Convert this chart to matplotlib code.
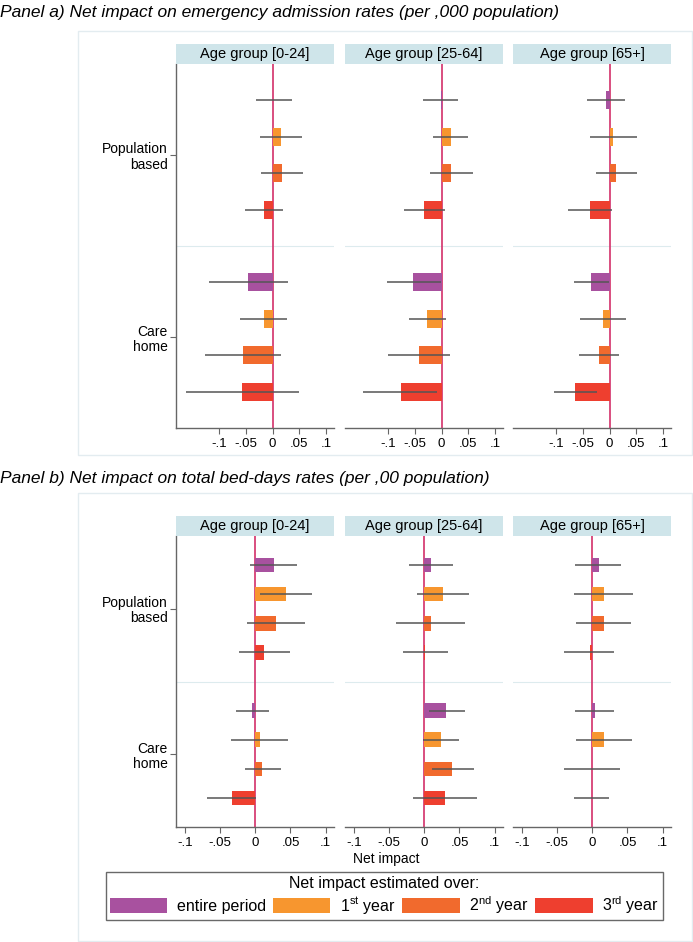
import matplotlib
matplotlib.use("Agg")
import matplotlib.pyplot as plt
from matplotlib.patches import Patch, Rectangle

plt.rcParams['font.family'] = ['Liberation Sans', 'DejaVu Sans']
plt.rcParams['mathtext.fontset'] = 'custom'
plt.rcParams['mathtext.rm'] = 'Liberation Sans'

# ---- data (rows: population based x4 periods, then care home x4 periods)
age_groups = ["Age group [0-24]", "Age group [25-64]", "Age group [65+]"]
periods = ["entire period", "1$^{\\mathrm{st}}$ year", "2$^{\\mathrm{nd}}$ year", "3$^{\\mathrm{rd}}$ year"]
settings = ["Population\nbased", "Care\nhome"]
ticks = [-0.1, -0.05, 0, 0.05, 0.1]
tick_labels = ["-.1", "-.05", "0", ".05", ".1"]

# panel a) emergency admissions
est_a_0_24 = [0.001, 0.015, 0.018, -0.016, -0.046, -0.016, -0.056, -0.057]
lo_a_0_24 = [-0.031, -0.024, -0.021, -0.051, -0.120, -0.061, -0.127, -0.162]
hi_a_0_24 = [0.037, 0.055, 0.057, 0.020, 0.029, 0.027, 0.015, 0.049]

est_a_25_64 = [-0.002, 0.017, 0.018, -0.033, -0.054, -0.027, -0.043, -0.077]
lo_a_25_64 = [-0.034, -0.016, -0.022, -0.071, -0.103, -0.062, -0.101, -0.147]
hi_a_25_64 = [0.031, 0.050, 0.058, 0.006, -0.001, 0.009, 0.015, -0.008]

est_a_65 = [-0.007, 0.006, 0.012, -0.037, -0.035, -0.012, -0.020, -0.065]
lo_a_65 = [-0.043, -0.036, -0.026, -0.078, -0.067, -0.055, -0.058, -0.105]
hi_a_65 = [0.029, 0.051, 0.051, 0.004, -0.001, 0.031, 0.018, -0.023]

# panel b) bed-days
est_b_0_24 = [0.026, 0.043, 0.029, 0.013, -0.005, 0.006, 0.010, -0.033]
lo_b_0_24 = [-0.007, 0.007, -0.012, -0.023, -0.027, -0.034, -0.015, -0.069]
hi_b_0_24 = [0.059, 0.081, 0.070, 0.050, 0.019, 0.046, 0.036, 0.001]

est_b_25_64 = [0.0095, 0.027, 0.009, 0.001, 0.031, 0.023, 0.040, 0.029]
lo_b_25_64 = [-0.022, -0.010, -0.040, -0.030, 0.006, -0.002, 0.011, -0.016]
hi_b_25_64 = [0.041, 0.064, 0.058, 0.034, 0.058, 0.049, 0.071, 0.075]

est_b_65 = [0.009, 0.016, 0.016, -0.004, 0.004, 0.017, 0.000, -0.001]
lo_b_65 = [-0.024, -0.026, -0.023, -0.040, -0.024, -0.023, -0.040, -0.026]
hi_b_65 = [0.041, 0.058, 0.055, 0.031, 0.031, 0.057, 0.040, 0.024]

colors = ['#A8519F', '#F7962F', '#F16A2D', '#EE3F2F']
zero_col = '#D3306A'
W, H = 693, 942

fig = plt.figure(figsize=(W / 100, H / 100), dpi=100)


def box(x0, y0, x1, y1):
    return [x0 / W, 1 - y1 / H, (x1 - x0) / W, (y1 - y0) / H]


# outer light frames
for y0, y1 in [(31, 455), (493, 941)]:
    fig.patches.append(Rectangle((78 / W, 1 - y1 / H), (692 - 78) / W, (y1 - y0) / H,
                                 transform=fig.transFigure, fill=False,
                                 edgecolor='#E3ECF0', lw=1.0))

fig.text(0.0, 1 - 12 / H, "Panel a) Net impact on emergency admission rates (per ,000 population)",
         fontsize=12.5, style='italic', va='center', ha='left')
fig.text(0.0, 1 - 479 / H, "Panel b) Net impact on total bed-days rates (per ,00 population)",
         fontsize=12.5, style='italic', va='center', ha='left')

ypos = [0, 1, 2, 3, 5, 6, 7, 8]
panel_x = [(176, 334), (345, 503), (513, 671)]

panels = [
    dict(top=64, bottom=428, xlim=(-0.181, 0.115),
         data=[(est_a_0_24, lo_a_0_24, hi_a_0_24),
               (est_a_25_64, lo_a_25_64, hi_a_25_64),
               (est_a_65, lo_a_65, hi_a_65)]),
    dict(top=536, bottom=827, xlim=(-0.113, 0.112),
         data=[(est_b_0_24, lo_b_0_24, hi_b_0_24),
               (est_b_25_64, lo_b_25_64, hi_b_25_64),
               (est_b_65, lo_b_65, hi_b_65)]),
]

for p in panels:
    for k, (x0, x1) in enumerate(panel_x):
        ax = fig.add_axes(box(x0, p['top'], x1, p['bottom']))
        est, lo, hi = p['data'][k]
        ax.axvline(0, color=zero_col, lw=1.2, zorder=1)
        ax.axhline(4, color='#DDEBEE', lw=0.8, zorder=0)
        ax.barh(ypos, est, height=0.5, color=[colors[i % 4] for i in range(8)], zorder=2)
        ax.hlines(ypos, lo, hi, color='#555555', lw=1.1, zorder=3)
        ax.set_xlim(*p['xlim'])
        ax.set_ylim(9, -1)
        ax.set_xticks(ticks)
        ax.set_xticklabels(tick_labels, fontsize=9.5)
        ax.tick_params(axis='x', length=4, width=0.8, color='#666666', pad=3)
        for s in ['top', 'right']:
            ax.spines[s].set_visible(False)
        ax.spines['bottom'].set_color('#666666')
        ax.spines['bottom'].set_linewidth(1.0)
        if k == 0:
            ax.spines['left'].set_color('#666666')
            ax.spines['left'].set_linewidth(1.0)
            ax.set_yticks([1.5, 6.5])
            ax.set_yticklabels(settings, fontsize=10, ha='right', linespacing=1.1)
            ax.tick_params(axis='y', length=4, width=0.8, color='#666666', pad=2)
        else:
            ax.spines['left'].set_visible(False)
            ax.set_yticks([])
        # strip header
        sax = fig.add_axes(box(x0, p['top'] - 20, x1, p['top']))
        sax.set_facecolor('#CFE5EA')
        sax.set_xticks([])
        sax.set_yticks([])
        for s in sax.spines.values():
            s.set_visible(False)
        sax.text(0.5, 0.5, age_groups[k], fontsize=10.5, ha='center', va='center',
                 transform=sax.transAxes)

fig.text(386 / W, 1 - 859 / H, "Net impact", fontsize=10, ha='center', va='center')

handles = [Patch(facecolor=c, edgecolor='none') for c in colors]
leg = fig.legend(handles, periods, ncol=4, loc='center',
                 bbox_to_anchor=(98 / W, 1 - 921 / H, (671 - 98) / W, 50 / H),
                 mode='expand', title="Net impact estimated over:",
                 fontsize=11.5, title_fontsize=11.5, fancybox=False,
                 handlelength=3.6, handleheight=1.0, handletextpad=0.6,
                 borderpad=0.25, labelspacing=0.2, columnspacing=1.0)
leg.get_frame().set_edgecolor('#444444')
leg.get_frame().set_linewidth(1.0)

fig.savefig("out.png", dpi=100)
